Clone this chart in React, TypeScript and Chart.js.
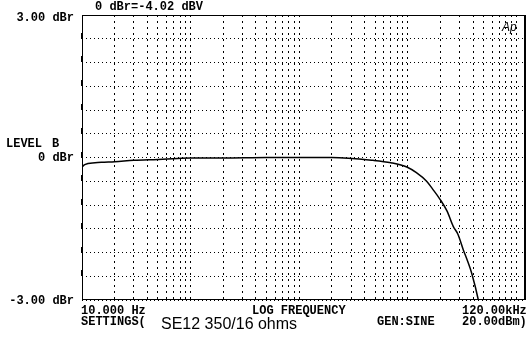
import React, { useEffect, useRef } from "react";
import { Chart, registerables } from "chart.js";

Chart.register(...registerables);

// Frequency (Hz) and level (dBr) of the measured response
const freqHz = [10, 10.6, 13.2, 16, 20, 30, 50, 76, 100, 200, 500, 1000, 2000, 4800, 7000, 9800, 12000, 14900, 17000, 19800, 23000, 26200, 29000, 32400, 35500, 38700, 44600, 47000];
const levelDbr = [-0.2, -0.15, -0.11, -0.1, -0.09, -0.06, -0.04, -0.02, -0.01, -0.01, 0, 0, 0, -0.06, -0.11, -0.2, -0.32, -0.5, -0.67, -0.88, -1.13, -1.45, -1.62, -1.94, -2.18, -2.43, -3.0, -3.3];

// Grid positions
const xGridHz = [10, 20, 30, 40, 50, 60, 70, 80, 90, 100, 200, 300, 400, 500, 600, 700, 800, 900, 1000, 2000, 3000, 4000, 5000, 6000, 7000, 8000, 9000, 10000, 20000, 30000, 40000, 50000, 60000, 70000, 80000, 90000, 100000, 120000];
const yMin = -3;
const yMax = 3;
const yStep = 0.5;

// Texts
const topTitle = "0 dBr=-4.02 dBV";
const yTopLabel = "3.00 dBr";
const yMidLabel = "0 dBr";
const yBottomLabel = "-3.00 dBr";
const levelLabel = "LEVEL";
const channelLabel = "B";
const xStartLabel = "10.000 Hz";
const xAxisLabel = "LOG FREQUENCY";
const xEndLabel = "120.00kHz";
const settingsLabel = "SETTINGS(";
const deviceLabel = "SE12 350/16 ohms";
const genLabel = "GEN:SINE";
const genLevelLabel = "20.00dBm)";
const logoLabel = "Ap";

const MONO = "bold 12px 'Liberation Mono', 'DejaVu Sans Mono', monospace";

const decorPlugin = {
  id: "decor",
  afterDraw(chart: any) {
    const ctx = chart.ctx as CanvasRenderingContext2D;
    const a = chart.chartArea;
    const ys = chart.scales.y;
    ctx.save();
    // frame
    ctx.strokeStyle = "#000";
    ctx.lineWidth = 1;
    ctx.beginPath();
    ctx.moveTo(Math.round(a.left) + 0.5, Math.round(a.top) + 0.5);
    ctx.lineTo(Math.round(a.right) - 0.5, Math.round(a.top) + 0.5);
    ctx.moveTo(Math.round(a.left) + 0.5, Math.round(a.top));
    ctx.lineTo(Math.round(a.left) + 0.5, Math.round(a.bottom));
    ctx.moveTo(Math.round(a.left), Math.round(a.bottom) - 0.5);
    ctx.lineTo(Math.round(a.right), Math.round(a.bottom) - 0.5);
    ctx.stroke();
    ctx.lineWidth = 2;
    ctx.beginPath();
    ctx.moveTo(Math.round(a.right), Math.round(a.top));
    ctx.lineTo(Math.round(a.right), Math.round(a.bottom));
    ctx.stroke();
    // left tick marks
    ctx.fillStyle = "#000";
    for (let v = yMax - yStep; v > yMin; v -= yStep) {
      const py = Math.round(ys.getPixelForValue(v));
      ctx.fillRect(Math.round(a.left) - 1, py - 6, 2, 6);
    }

    ctx.fillStyle = "#000";
    ctx.font = MONO;
    ctx.textBaseline = "alphabetic";
    ctx.textAlign = "right";
    ctx.fillText(yTopLabel, 74, 20.5);
    ctx.fillText(yMidLabel, 74, 161);
    ctx.fillText(yBottomLabel, 74, 304);
    ctx.textAlign = "left";
    ctx.fillText(topTitle, 95, 9.5);
    ctx.fillText(levelLabel, 6, 147);
    ctx.fillText(channelLabel, 52, 147);
    ctx.fillText(xStartLabel, 81, 313.5);
    ctx.fillText(xAxisLabel, 252, 313.5);
    ctx.fillText(xEndLabel, 462, 313.5);
    ctx.fillText(settingsLabel, 81, 324.5);
    ctx.fillText(genLabel, 377, 324.5);
    ctx.fillText(genLevelLabel, 462, 324.5);
    ctx.font = "16px 'Liberation Sans', Arial, sans-serif";
    ctx.fillText(deviceLabel, 161, 329);
    ctx.font = "italic 12px 'Liberation Sans', Arial, sans-serif";
    ctx.fillText(logoLabel, 502, 31);
    ctx.restore();
  },
};

export default function App() {
  const ref = useRef<HTMLCanvasElement | null>(null);
  useEffect(() => {
    document.body.style.margin = "0";
    document.body.style.background = "#fff";
    const canvas = ref.current!;
    const chart = new Chart(canvas, {
      type: "line",
      data: {
        datasets: [
          {
            data: freqHz.map((f, i) => ({ x: f, y: levelDbr[i] })),
            borderColor: "#000",
            borderWidth: 1.5,
            pointRadius: 0,
            cubicInterpolationMode: "monotone",
            fill: false,
          },
        ],
      },
      options: {
        responsive: false,
        animation: false,
        events: [],
        layout: { padding: { left: 82, top: 15, right: 6, bottom: 41 } },
        plugins: { legend: { display: false }, tooltip: { enabled: false } },
        scales: {
          x: {
            type: "logarithmic",
            min: 10,
            max: 120000,
            afterBuildTicks: (scale: any) => {
              scale.ticks = xGridHz.map((v) => ({ value: v }));
            },
            ticks: { display: false },
            grid: { color: "#000", lineWidth: 1, drawTicks: false },
            border: { display: false, dash: [2, 4] },
          },
          y: {
            type: "linear",
            min: yMin,
            max: yMax,
            ticks: { display: false, stepSize: yStep },
            grid: { color: "#000", lineWidth: 1, drawTicks: false },
            border: { display: false, dash: [1, 3] },
          },
        },
      },
      plugins: [decorPlugin],
    } as any);
    return () => chart.destroy();
  }, []);
  return (
    <div style={{ position: "absolute", left: 0, top: 0, width: 531, height: 341, background: "#fff" }}>
      <canvas ref={ref} width={531} height={341} style={{ display: "block", width: 531, height: 341 }} />
    </div>
  );
}
